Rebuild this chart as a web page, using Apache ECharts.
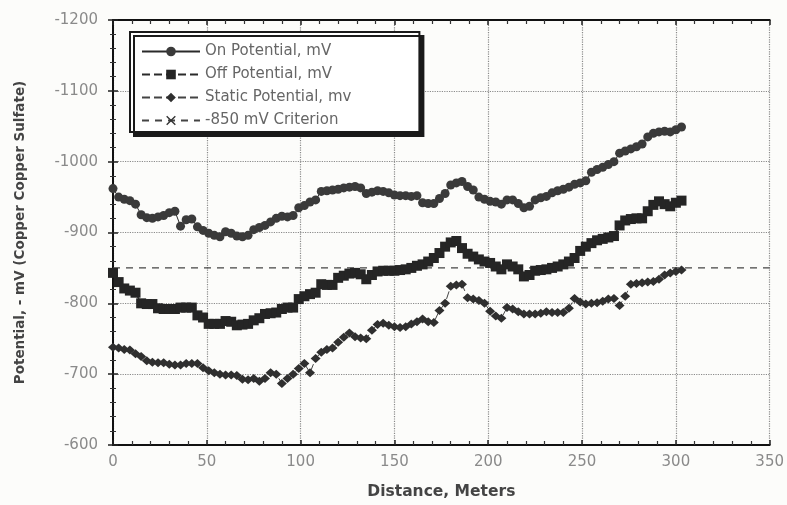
<!DOCTYPE html>
<html>
<head>
<meta charset="utf-8">
<script src="https://cdn.jsdelivr.net/npm/echarts@6/dist/echarts.min.js"></script>
<style>
html,body{margin:0;padding:0;background:#fcfcfa;}
#chart{width:787px;height:505px;}
</style>
</head>
<body>
<div id="chart"></div>
<script>
// Distance along pipeline, meters
var distance = [0,3,6,9,12,15,18,21,24,27,30,33,36,39,42,45,48,51,54,57,60,63,66,69,72,75,78,81,84,87,90,93,96,99,102,105,108,111,114,117,120,123,126,129,132,135,138,141,144,147,150,153,156,159,162,165,168,171,174,177,180,183,186,189,192,195,198,201,204,207,210,213,216,219,222,225,228,231,234,237,240,243,246,249,252,255,258,261,264,267,270,273,276,279,282,285,288,291,294,297,300,303];

var onPotential = [-962,-950,-947,-945,-940,-925,-921,-920,-922,-924,
  -928,-930,-909,-918,-919,-908,-903,-899,-896,-894,
  -901,-899,-895,-894,-896,-904,-907,-910,-915,-920,
  -923,-922,-924,-935,-938,-943,-946,-958,-959,-960,
  -961,-963,-964,-965,-963,-955,-957,-959,-958,-956,
  -953,-952,-952,-951,-952,-942,-941,-941,-948,-955,
  -967,-970,-972,-965,-960,-950,-947,-944,-943,-940,
  -946,-946,-941,-935,-937,-946,-949,-951,-956,-959,
  -961,-964,-968,-970,-973,-985,-989,-992,-996,-1000,
  -1012,-1015,-1018,-1021,-1025,-1035,-1040,-1042,-1043,-1042,
  -1045,-1049];

var offPotential = [-843,-830,-821,-818,-815,-800,-799,-799,-793,-792,
  -792,-792,-794,-794,-794,-783,-780,-771,-771,-771,
  -775,-774,-769,-770,-771,-776,-779,-785,-786,-787,
  -792,-794,-794,-806,-810,-813,-815,-827,-826,-826,
  -836,-839,-842,-843,-841,-834,-840,-845,-846,-846,
  -846,-847,-848,-850,-853,-855,-859,-864,-871,-880,
  -886,-888,-878,-870,-866,-862,-859,-857,-852,-848,
  -855,-852,-848,-838,-840,-846,-847,-848,-850,-852,
  -855,-859,-864,-874,-880,-885,-889,-891,-893,-895,
  -910,-917,-919,-920,-920,-930,-939,-944,-940,-937,
  -942,-945];

var staticPotential = [-738,-737,-735,-734,-729,-725,-719,-717,-716,-716,
  -714,-713,-713,-715,-715,-715,-709,-705,-702,-700,
  -699,-699,-698,-693,-692,-694,-690,-694,-702,-700,
  -687,-694,-700,-708,-715,-702,-722,-731,-735,-737,
  -745,-752,-758,-753,-751,-750,-762,-770,-772,-769,
  -767,-766,-767,-771,-774,-778,-774,-773,-790,-800,
  -824,-826,-827,-808,-806,-804,-800,-789,-782,-779,
  -794,-792,-788,-785,-785,-785,-786,-788,-787,-787,
  -787,-793,-807,-802,-799,-800,-801,-803,-806,-807,
  -797,-810,-827,-828,-829,-830,-831,-834,-840,-843,
  -845,-847];

var criterionX = [0, 350];
var criterionY = [-850, -850];

var seriesNames = ['On Potential, mV', 'Off Potential, mV', 'Static Potential, mv', '-850 mV Criterion'];

function pairs(xs, ys) {
  return xs.map(function (x, i) { return [x, ys[i]]; });
}

var chart = echarts.init(document.getElementById('chart'));
var ink = '#2a2a2a';
var font = 'DejaVu Sans, Verdana, sans-serif';
var axisLine = {show: true, lineStyle: {color: '#111', width: 2}};
var tickIn = {show: true, inside: true, length: 5, lineStyle: {color: '#222', width: 1.5}};
var minorIn = {show: true, splitNumber: 5, length: 3, lineStyle: {color: '#333', width: 1}};

chart.setOption({
  backgroundColor: '#fcfcfa',
  animation: false,
  grid: {left: 113, right: 16, top: 20, bottom: 56},
  legend: {
    orient: 'vertical',
    left: 130,
    top: 32,
    data: seriesNames,
    itemWidth: 58,
    itemHeight: 12,
    itemGap: 8,
    padding: [12, 68, 4, 11],
    backgroundColor: '#ffffff',
    borderColor: '#1a1a1a',
    borderWidth: 2,
    shadowColor: '#1a1a1a',
    shadowBlur: 0,
    shadowOffsetX: 4,
    shadowOffsetY: 4,
    textStyle: {fontFamily: font, fontSize: 15, color: '#666'}
  },
  xAxis: [{
    type: 'value', min: 0, max: 350, interval: 50,
    name: 'Distance, Meters', nameLocation: 'middle', nameGap: 39,
    nameTextStyle: {fontFamily: font, fontSize: 15.5, fontWeight: 'bold', color: '#444'},
    axisLine: axisLine, axisTick: tickIn,
    minorTick: {show: true, splitNumber: 5, length: 4, lineStyle: {color: '#333', width: 1.2}},
    axisLabel: {margin: 10, fontFamily: font, fontSize: 15, color: '#8a8a8a'},
    splitLine: {show: true, lineStyle: {type: 'dotted', color: '#8a8a8a', width: 1.2}}
  }, {
    type: 'value', position: 'top', min: 0, max: 350, interval: 50,
    axisLine: axisLine, axisTick: tickIn,
    minorTick: {show: true, splitNumber: 5, length: 4, lineStyle: {color: '#333', width: 1.2}},
    axisLabel: {show: false}, splitLine: {show: false}
  }],
  yAxis: [{
    type: 'value', inverse: true, min: -1200, max: -600, interval: 100,
    name: 'Potential, - mV (Copper Copper Sulfate)', nameLocation: 'middle', nameGap: 86,
    nameTextStyle: {fontFamily: font, fontSize: 13.5, fontWeight: 'bold', color: '#444'},
    axisLine: axisLine, axisTick: tickIn, minorTick: minorIn,
    axisLabel: {margin: 15, fontFamily: font, fontSize: 15, color: '#8a8a8a',
      formatter: function (v) { return String(v); }},
    splitLine: {show: true, lineStyle: {type: 'dotted', color: '#8a8a8a', width: 1.2}}
  }, {
    type: 'value', position: 'right', inverse: true, min: -1200, max: -600, interval: 100,
    axisLine: axisLine, axisTick: tickIn, minorTick: minorIn,
    axisLabel: {show: false}, splitLine: {show: false}
  }],
  series: [{
    name: seriesNames[0], type: 'line', data: pairs(distance, onPotential),
    symbol: 'circle', symbolSize: 9, showAllSymbol: true,
    itemStyle: {color: '#3a3a3a'},
    lineStyle: {color: ink, width: 1, type: 'solid'}
  }, {
    name: seriesNames[1], type: 'line', data: pairs(distance, offPotential),
    symbol: 'rect', symbolSize: 10, showAllSymbol: true,
    itemStyle: {color: '#252525'},
    lineStyle: {color: ink, width: 1.5, type: [8, 4]}
  }, {
    name: seriesNames[2], type: 'line', data: pairs(distance, staticPotential),
    symbol: 'diamond', symbolSize: [10, 9], showAllSymbol: true,
    itemStyle: {color: '#2f2f2f'},
    lineStyle: {color: '#444', width: 1, type: [8, 4]}
  }, {
    name: seriesNames[3], type: 'line', data: pairs(criterionX, criterionY),
    symbol: 'path://M0,1L1,0L5,4L9,0L10,1L6,5L10,9L9,10L5,6L1,10L0,9L4,5Z',
    symbolSize: 8, showSymbol: false,
    itemStyle: {color: '#333'},
    lineStyle: {color: '#444', width: 1.3, type: [7, 6]}
  }]
});
</script>
</body>
</html>
